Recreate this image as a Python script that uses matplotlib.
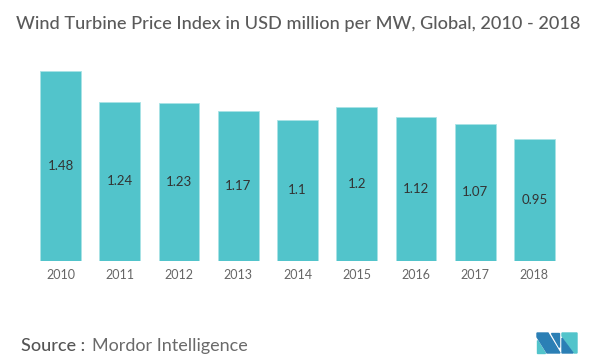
import matplotlib
matplotlib.use("Agg")
import matplotlib.pyplot as plt
from matplotlib.patches import Polygon

years = ["2010", "2011", "2012", "2013", "2014", "2015", "2016", "2017", "2018"]
prices = [1.48, 1.24, 1.23, 1.17, 1.10, 1.20, 1.12, 1.07, 0.95]
value_labels = ["1.48", "1.24", "1.23", "1.17", "1.1", "1.2", "1.12", "1.07", "0.95"]

bar_color = "#52c4cb"

fig = plt.figure(figsize=(6.02, 3.64), dpi=100)
ax = fig.add_axes([31 / 602, 103 / 364, 533 / 602, 192.6 / 364])

x = range(len(years))
bars = ax.bar(x, prices, width=0.69, color=bar_color, edgecolor="#a9e3e6", linewidth=0.6)

for b, lab in zip(bars, value_labels):
    ax.text(b.get_x() + b.get_width() / 2, b.get_height() / 2, lab,
            ha="center", va="center", fontsize=9.5, color="#333333", family="Lato")

ax.set_xlim(-0.5, 8.5)
ax.set_ylim(0, 1.5)
ax.set_xticks(list(x))
ax.set_xticklabels(years, fontsize=9, color="#666666", family="Lato")
ax.tick_params(axis="x", length=0, pad=6)
ax.set_yticks([])
for s in ax.spines.values():
    s.set_visible(False)

fig.text(16 / 602, 1 - 24 / 364, "Wind Turbine Price Index in USD million per MW, Global, 2010 - 2018",
         fontsize=13.1, color="#5a5a5a", family="Lato", fontweight="medium",
         va="center", ha="left")

fig.text(21 / 602, 1 - 346 / 364, "Source :", fontsize=13, color="#555555",
         family="Lato", fontweight="medium", va="center", ha="left")
fig.text(92 / 602, 1 - 346 / 364, "Mordor Intelligence", fontsize=13, color="#6a6a6a",
         family="Lato", fontweight="normal", va="center", ha="left")

# logo
def px(xp, yp):
    return (xp / 602, 1 - yp / 364)

dark = "#2b7fb5"
logo = [
    ([(537, 340), (537, 353), (545, 353)], bar_color),
    ([(537, 333), (548, 333), (560, 353), (547, 353), (537, 337)], dark),
    ([(551, 333), (559, 333), (559, 347)], dark),
    ([(562, 333), (577, 333), (577, 353), (574, 353), (562, 336)], bar_color),
    ([(562, 338), (573, 353), (562, 353)], dark),
]
for pts, c in logo:
    fig.patches.append(Polygon([px(a, b) for a, b in pts], closed=True, color=c,
                               transform=fig.transFigure, figure=fig))

fig.savefig("out.png", dpi=100, facecolor="white")
